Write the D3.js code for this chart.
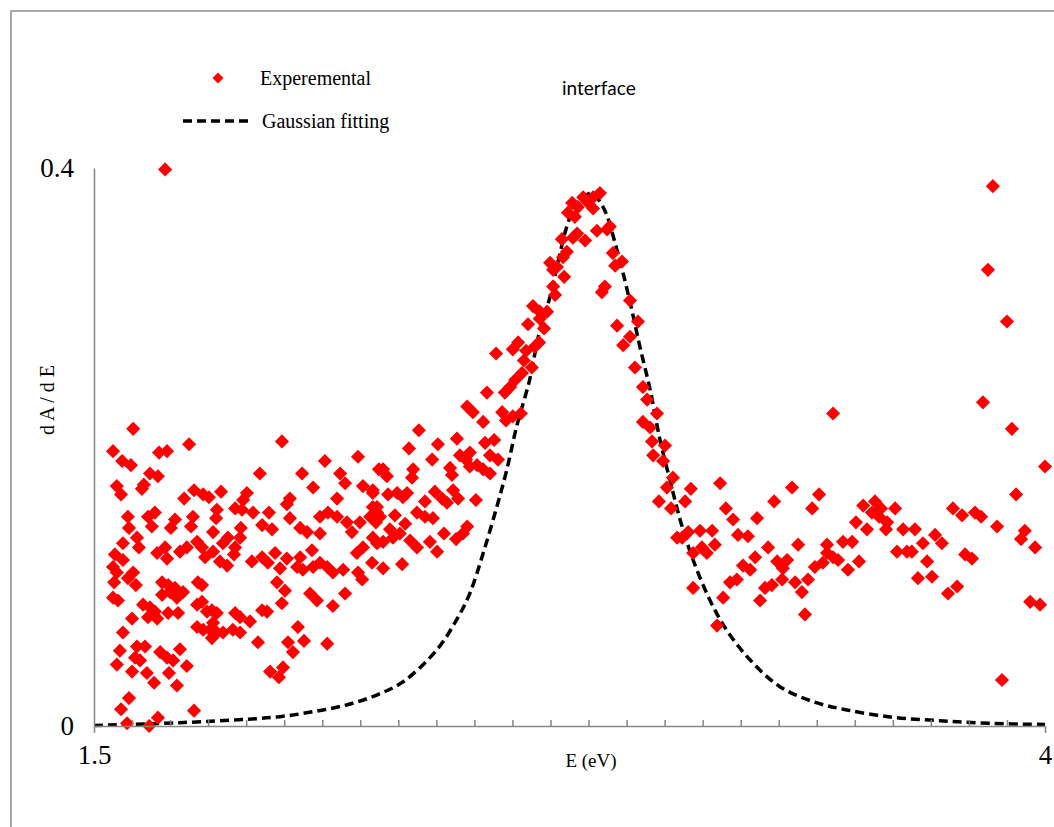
<!DOCTYPE html>
<html>
<head>
<meta charset="utf-8">
<script src="https://cdn.jsdelivr.net/npm/d3@7"></script>
<style>
  html, body { margin: 0; padding: 0; background: #fff; }
  svg { display: block; }
</style>
</head>
<body>
<svg id="chart" width="1054" height="827"></svg>
<script>
// ---------- DATA ----------
const xDomain = [1.5, 4];
const yDomain = [0, 0.4];
const xTickLabels = [1.5, 4];
const yTickLabels = [0, 0.4];
const xMinorTicks = [1.6,1.7,1.8,1.9,2.0,2.1,2.2,2.3,2.4,2.5,2.6,2.7,2.8,2.9,3.0,3.1,3.2,3.3,3.4,3.5,3.6,3.7,3.8,3.9];
const seriesNames = ["Experemental", "Gaussian fitting"];
const chartTitle = "interface";
const xTitle = "E (eV)";
const yTitle = "d A / d E";

// Experimental points [E (eV), dA/dE]
const experimental = [
[1.687,0.399],[1.603,0.213],[1.550,0.197],[1.574,0.190],[1.597,0.187],[1.671,0.196],[1.692,0.197],[1.750,0.202],
[1.994,0.204],[2.107,0.190],[2.194,0.193],[1.936,0.181],[2.047,0.181],[2.147,0.181],[2.160,0.174],[2.076,0.171],
[2.249,0.184],[1.647,0.181],[1.668,0.179],[1.631,0.173],[1.626,0.170],[1.560,0.172],[1.571,0.166],[1.737,0.163],
[1.763,0.169],[1.787,0.166],[1.802,0.164],[1.834,0.168],[1.902,0.167],[1.892,0.162],[2.015,0.163],[2.007,0.159],
[2.139,0.163],[2.207,0.172],[2.233,0.167],[2.233,0.157],[1.589,0.150],[1.660,0.153],[1.642,0.150],[1.592,0.142],
[1.652,0.143],[1.713,0.148],[1.702,0.142],[1.760,0.150],[1.755,0.143],[1.823,0.155],[1.821,0.149],[1.813,0.139],
[1.871,0.156],[1.889,0.155],[1.918,0.153],[1.960,0.153],[2.015,0.149],[1.942,0.144],[1.968,0.141],[1.886,0.142],
[2.094,0.150],[2.115,0.153],[2.139,0.150],[2.165,0.146],[2.178,0.139],[2.199,0.146],[2.226,0.150],[2.244,0.153],
[2.042,0.142],[2.060,0.139],[2.094,0.138],[1.576,0.131],[1.555,0.123],[1.613,0.135],[1.618,0.128],[1.576,0.119],
[1.666,0.124],[1.687,0.128],[1.692,0.120],[1.726,0.125],[1.744,0.128],[1.771,0.132],[1.784,0.128],[1.792,0.121],
[1.813,0.125],[1.839,0.131],[1.852,0.135],[1.871,0.128],[1.868,0.123],[1.831,0.118],[1.850,0.115],[1.884,0.135],
[1.915,0.118],[1.942,0.121],[1.957,0.117],[1.976,0.124],[2.007,0.120],[2.042,0.121],[2.034,0.114],[1.989,0.113],
[1.981,0.103],[2.002,0.097],[2.049,0.112],[2.073,0.126],[2.076,0.114],[2.094,0.117],[2.113,0.114],[2.128,0.110],
[2.155,0.112],[2.191,0.124],[2.207,0.128],[2.233,0.135],[2.244,0.131],[2.194,0.110],[2.205,0.105],[2.160,0.095],
[2.068,0.095],[2.086,0.090],[2.128,0.086],[1.550,0.114],[1.560,0.110],[1.603,0.110],[1.589,0.106],[1.610,0.101],
[1.553,0.103],[1.550,0.092],[1.563,0.090],[1.679,0.103],[1.695,0.101],[1.700,0.096],[1.713,0.099],[1.718,0.092],
[1.734,0.096],[1.679,0.094],[1.773,0.103],[1.784,0.101],[1.784,0.089],[1.771,0.087],[1.629,0.087],[1.647,0.085],
[1.660,0.082],[1.695,0.081],[1.721,0.081],[1.642,0.078],[1.666,0.077],[1.810,0.083],[1.823,0.081],[1.797,0.082],
[1.871,0.081],[1.884,0.078],[1.942,0.083],[1.955,0.082],[1.994,0.088],[1.600,0.077],[1.771,0.071],[1.787,0.069],
[1.805,0.069],[1.813,0.074],[1.823,0.067],[1.839,0.067],[1.810,0.063],[1.865,0.069],[1.884,0.067],[1.910,0.075],
[2.036,0.071],[1.576,0.067],[1.568,0.054],[1.613,0.057],[1.634,0.057],[1.608,0.049],[1.621,0.047],[1.674,0.053],
[1.692,0.049],[1.708,0.047],[1.726,0.055],[1.560,0.044],[1.600,0.039],[1.639,0.038],[1.658,0.031],[1.697,0.038],
[1.718,0.029],[1.744,0.043],[1.931,0.060],[2.010,0.060],[2.023,0.053],[2.052,0.061],[2.113,0.059],[1.963,0.039],
[1.997,0.042],[1.986,0.035],[1.592,0.020],[1.571,0.012],[1.587,0.002],[1.645,0.000],[1.668,0.006],[1.763,0.011],
[2.533,0.239],[2.580,0.239],[2.594,0.243],[2.481,0.229],[2.496,0.225],[2.523,0.218],[2.573,0.225],[2.583,0.219],
[2.601,0.222],[2.622,0.224],[2.354,0.212],[2.328,0.199],[2.404,0.202],[2.454,0.206],[2.528,0.203],[2.552,0.205],
[2.389,0.191],[2.462,0.194],[2.488,0.196],[2.478,0.191],[2.541,0.194],[2.562,0.191],[2.436,0.185],[2.488,0.186],
[2.507,0.187],[2.523,0.184],[2.541,0.181],[2.339,0.184],[2.336,0.178],[2.441,0.180],[2.260,0.184],[2.270,0.179],
[2.233,0.169],[2.273,0.166],[2.297,0.167],[2.312,0.164],[2.323,0.167],[2.370,0.161],[2.396,0.168],[2.415,0.163],
[2.428,0.160],[2.444,0.169],[2.457,0.163],[2.504,0.162],[2.244,0.157],[2.252,0.150],[2.291,0.151],[2.349,0.153],
[2.370,0.150],[2.391,0.149],[2.318,0.145],[2.241,0.146],[2.278,0.141],[2.286,0.135],[2.304,0.138],[2.260,0.132],
[2.331,0.133],[2.349,0.128],[2.383,0.132],[2.402,0.125],[2.420,0.138],[2.452,0.134],[2.481,0.143],[2.470,0.138],
[2.260,0.113],[2.310,0.116],[2.231,0.117],
[2.707,0.315],[2.712,0.309],[2.654,0.301],[2.672,0.297],[2.691,0.297],[2.672,0.292],[2.641,0.288],[2.683,0.285],
[2.615,0.275],[2.601,0.270],[2.636,0.269],[2.670,0.275],[2.659,0.272],[2.557,0.267],[2.630,0.262],[2.651,0.257],
[2.625,0.253],[2.607,0.248],
[2.830,0.382],[2.812,0.379],[2.786,0.379],[2.796,0.376],[2.757,0.375],[2.772,0.372],[2.812,0.371],[2.746,0.368],
[2.764,0.365],[2.856,0.358],[2.849,0.356],[2.822,0.355],[2.770,0.353],[2.759,0.350],[2.791,0.348],[2.730,0.349],
[2.743,0.340],[2.733,0.336],[2.864,0.339],[2.888,0.333],[2.870,0.330],[2.699,0.332],[2.717,0.329],[2.707,0.327],
[2.736,0.322],[2.843,0.315],[2.835,0.311],[2.909,0.305],[2.930,0.290],[2.875,0.287],[2.909,0.279],[2.891,0.273],
[2.922,0.257],[2.943,0.243],[2.954,0.234],
[2.980,0.224],[2.943,0.218],[2.962,0.214],[2.967,0.204],[3.001,0.201],[2.970,0.194],[2.996,0.190],[3.022,0.178],
[3.006,0.171],[3.069,0.170],[3.146,0.174],[2.985,0.161],[3.017,0.156],[3.054,0.161],[3.443,0.224],[3.837,0.232],
[3.913,0.213],[4.000,0.186],[3.924,0.166],[3.335,0.171],[3.406,0.166],[3.288,0.161],[3.388,0.156],[3.161,0.156],
[3.180,0.148],[3.243,0.149],[3.522,0.158],[3.553,0.161],[3.569,0.156],[3.545,0.153],[3.564,0.150],[3.606,0.156],
[3.585,0.146],[3.503,0.146],[3.532,0.141],[3.582,0.141],[3.627,0.141],[3.658,0.141],[3.758,0.156],[3.782,0.151],
[3.816,0.153],[3.832,0.150],[3.874,0.143],[3.947,0.140],[3.937,0.134],[3.974,0.128],[3.033,0.135],[3.062,0.139],
[3.093,0.140],[3.125,0.140],[3.046,0.135],[3.075,0.124],[3.098,0.128],[3.111,0.124],[3.132,0.130],[3.193,0.137],
[3.219,0.136],[3.272,0.128],[3.351,0.130],[3.427,0.130],[3.469,0.132],[3.493,0.132],[3.611,0.125],[3.637,0.125],
[3.650,0.125],[3.679,0.131],[3.711,0.137],[3.729,0.131],[3.790,0.123],[3.808,0.120],[3.238,0.121],[3.206,0.115],
[3.225,0.112],[3.296,0.118],[3.322,0.119],[3.311,0.113],[3.395,0.114],[3.416,0.117],[3.427,0.124],[3.443,0.121],
[3.456,0.119],[3.482,0.112],[3.511,0.118],[3.690,0.118],[3.172,0.103],[3.190,0.105],[3.154,0.092],[3.075,0.099],
[3.264,0.099],[3.282,0.101],[3.251,0.090],[3.309,0.105],[3.343,0.103],[3.361,0.096],[3.377,0.105],[3.666,0.106],
[3.703,0.107],[3.745,0.095],[3.769,0.100],[3.961,0.089],[3.987,0.087],[3.369,0.080],[3.138,0.072],[3.887,0.033],
[3.863,0.387],[3.850,0.327],[3.900,0.290]
];

// Gaussian fitting curve [E (eV), dA/dE]
const gaussianFit = [
[1.500,0.0004],[1.726,0.0024],[1.901,0.0048],[1.989,0.0067],[2.077,0.0103],[2.164,0.0151],[2.243,0.0222],
[2.313,0.0318],[2.401,0.0545],[2.453,0.0760],[2.488,0.0951],[2.523,0.1238],[2.559,0.1572],[2.585,0.1835],
[2.611,0.2146],[2.646,0.2490],[2.668,0.2790],[2.699,0.3080],[2.721,0.3340],[2.743,0.3580],[2.769,0.3747],
[2.809,0.3820],[2.830,0.3758],[2.848,0.3663],[2.870,0.3460],[2.891,0.3245],[2.914,0.2980],[2.935,0.2720],
[2.962,0.2410],[2.988,0.2050],[3.014,0.1763],[3.041,0.1477],[3.075,0.1190],[3.119,0.0903],[3.163,0.0688],
[3.225,0.0473],[3.303,0.0282],[3.391,0.0174],[3.479,0.0115],[3.601,0.0062],[3.724,0.0038],[3.855,0.0019],
[4.000,0.0011]
];

// ---------- DRAWING ----------
const svg = d3.select("#chart");
const serif = "'Liberation Serif', 'Times New Roman', serif";
const axisGray = "#868686";

svg.append("rect").attr("width", 1054).attr("height", 827).attr("fill", "#fff");

// chart-area frame
svg.append("path")
  .attr("d", "M11,827V11H1054")
  .attr("fill", "none").attr("stroke", "#8c8c8c").attr("stroke-width", 1.5);

const x = d3.scaleLinear().domain(xDomain).range([94, 1045]);
const y = d3.scaleLinear().domain(yDomain).range([726, 168]);

// Gaussian fit line
const line = d3.line().x(d => x(d[0])).y(d => y(d[1])).curve(d3.curveCatmullRom.alpha(0.5));
svg.append("path")
  .datum(gaussianFit)
  .attr("d", line)
  .attr("fill", "none")
  .attr("stroke", "#000")
  .attr("stroke-width", 3.5)
  .attr("stroke-dasharray", "9,5");

// Experimental points
const diamond = d3.symbol().type(d3.symbolSquare).size(100);
svg.append("g").selectAll("path")
  .data(experimental)
  .join("path")
  .attr("d", diamond)
  .attr("transform", d => `translate(${x(d[0])},${y(d[1])}) rotate(45)`)
  .attr("fill", "#ff0000");

// X axis: minor ticks (inside) and major ticks with labels
const gxMinor = svg.append("g").attr("transform", "translate(0,726)")
  .call(d3.axisBottom(x).tickValues(xMinorTicks).tickSize(-6).tickFormat(""));
gxMinor.select(".domain").remove();
gxMinor.selectAll("line").attr("stroke", axisGray).attr("stroke-width", 1.5);

const gx = svg.append("g").attr("transform", "translate(0,726)")
  .call(d3.axisBottom(x).tickValues(xTickLabels).tickSize(7).tickSizeOuter(0).tickPadding(12)
    .tickFormat(d => String(d)));
gx.select(".domain").attr("stroke", axisGray).attr("stroke-width", 1.5);
gx.selectAll("line").attr("stroke", axisGray).attr("stroke-width", 1.5);
gx.selectAll("text").attr("font-family", serif).attr("font-size", 27).attr("fill", "#000");

// Y axis
const gy = svg.append("g").attr("transform", "translate(94,0)")
  .call(d3.axisLeft(y).tickValues(yTickLabels).tickSize(0).tickSizeOuter(0).tickPadding(20)
    .tickFormat(d => String(d)));
gy.select(".domain").attr("stroke", axisGray).attr("stroke-width", 1.5);
gy.selectAll("text").attr("font-family", serif).attr("font-size", 27).attr("fill", "#000");

// Axis titles
svg.append("text")
  .attr("x", 591).attr("y", 760).attr("dy", "0.35em")
  .attr("text-anchor", "middle")
  .attr("font-family", serif).attr("font-size", 19)
  .text(xTitle);

svg.append("text")
  .attr("transform", "translate(47,400) rotate(-90)")
  .attr("dy", "0.35em")
  .attr("text-anchor", "middle")
  .attr("font-family", serif).attr("font-size", 20)
  .text(yTitle);

// Title
svg.append("text")
  .attr("x", 562).attr("y", 88).attr("dy", "0.35em")
  .attr("font-family", "Lato, 'Open Sans', sans-serif").attr("font-size", 19)
  .text(chartTitle);

// Legend
const lg = svg.append("g");
lg.append("path")
  .attr("d", d3.symbol().type(d3.symbolSquare).size(60))
  .attr("transform", "translate(218,78) rotate(45)")
  .attr("fill", "#ff0000");
lg.append("text")
  .attr("x", 260).attr("y", 78).attr("dy", "0.35em")
  .attr("font-family", serif).attr("font-size", 20)
  .text(seriesNames[0]);
lg.append("line")
  .attr("x1", 183).attr("x2", 252).attr("y1", 121).attr("y2", 121)
  .attr("stroke", "#000").attr("stroke-width", 3.5).attr("stroke-dasharray", "9,5");
lg.append("text")
  .attr("x", 262).attr("y", 121).attr("dy", "0.35em")
  .attr("font-family", serif).attr("font-size", 20)
  .text(seriesNames[1]);
</script>
</body>
</html>
